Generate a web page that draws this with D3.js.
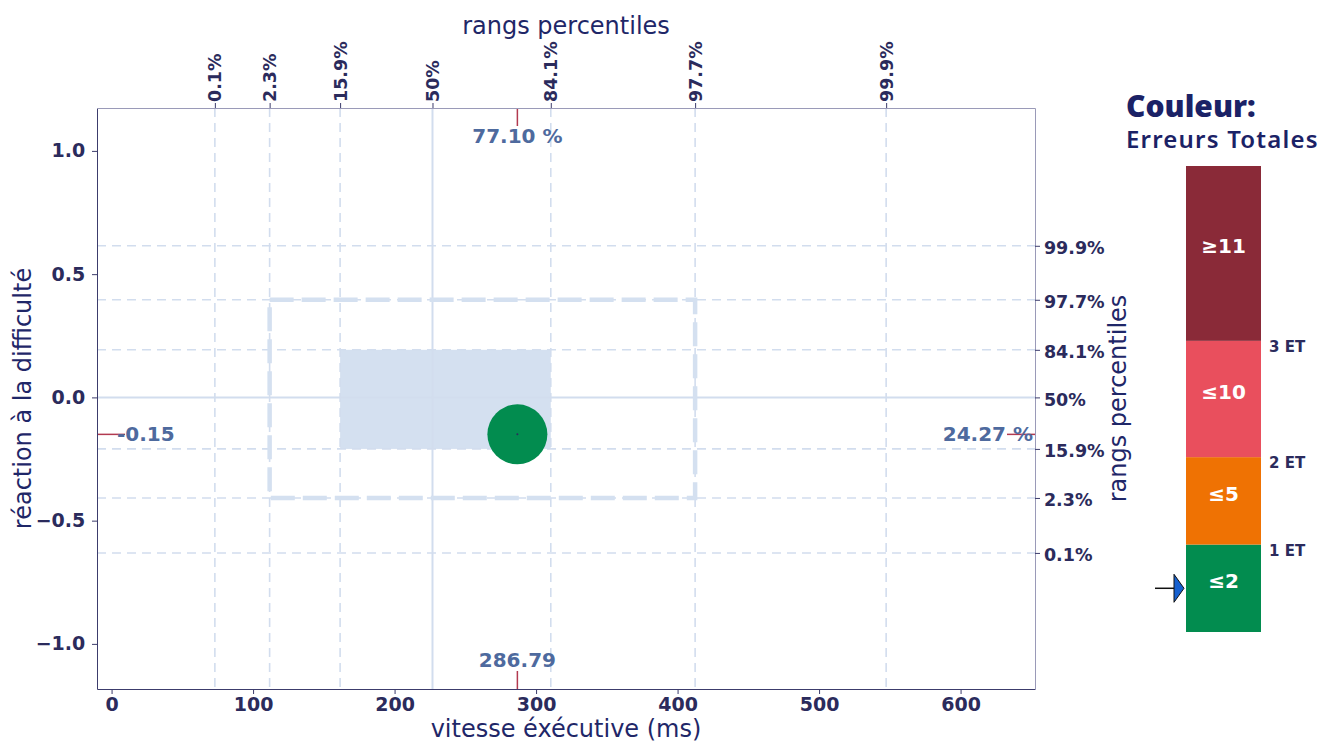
<!DOCTYPE html>
<html>
<head>
<meta charset="utf-8">
<script src="https://cdn.jsdelivr.net/npm/d3@7"></script>
<style>
  body { margin: 0; background: #fff; }
  .tick text { font-family: "DejaVu Sans", sans-serif; font-weight: bold; fill: #2b2b5c; }
  .axis-title { font-family: "DejaVu Sans", sans-serif; fill: #1f2768; font-size: 24px; }
  .val { font-family: "DejaVu Sans", sans-serif; font-weight: bold; fill: #4e6a9e; font-size: 20px; }
</style>
</head>
<body>
<div id="chart-area"></div>
<script>
// axis ticks
var xTicks = [0, 100, 200, 300, 400, 500, 600];
var yTicks = [-1.0, -0.5, 0.0, 0.5, 1.0];

// percentile reference lines (value where each percentile falls)
var pctLabels = ["0.1%", "2.3%", "15.9%", "50%", "84.1%", "97.7%", "99.9%"];
var xPctValues = [73, 111.7, 161.5, 226.8, 310.4, 412.4, 547.4];
var yPctValues = [-0.631, -0.408, -0.209, 0, 0.193, 0.396, 0.615];

// the score being shown
var scoreX = 286.79;
var scoreY = -0.15;
var scoreXPct = "77.10 %";
var scoreYPct = "24.27 %";
var scoreCategory = 0;

// colour legend
var legendLabels = ["≤2", "≤5", "≤10", "≥11"];
var legendColors = ["#028c4f", "#ef7203", "#e94f5d", "#8a2a38"];
var legendBounds = [0, 1, 2, 3.33, 5.33];
var legendSdLabels = ["1 ET", "2 ET", "3 ET"];

var W = 1337, H = 743;
var pLeft = 97, pRight = 1035, pTop = 108, pBottom = 689;

var svg = d3.select("#chart-area").append("svg")
    .attr("width", W)
    .attr("height", H);

var x = d3.scaleLinear().domain([-10.3, 652.6]).range([pLeft, pRight]);
var y = d3.scaleLinear().domain([-1.183, 1.174]).range([pBottom, pTop]);

var gridColor = "#d2ddee";

// shaded 1 SD box
svg.append("rect")
    .attr("x", x(xPctValues[2]))
    .attr("y", y(yPctValues[4]))
    .attr("width", x(xPctValues[4]) - x(xPctValues[2]))
    .attr("height", y(yPctValues[2]) - y(yPctValues[4]))
    .attr("fill", "#d4e0f0");

// percentile grid lines
svg.selectAll("line.vgrid")
    .data(xPctValues)
    .enter().append("line")
    .attr("class", "vgrid")
    .attr("x1", function (d) { return x(d); })
    .attr("x2", function (d) { return x(d); })
    .attr("y1", pTop)
    .attr("y2", pBottom)
    .attr("stroke", gridColor)
    .attr("stroke-width", function (d, i) { return i === 3 ? 2 : 1.6; })
    .attr("stroke-dasharray", function (d, i) { return i === 3 ? null : "9,6"; });

svg.selectAll("line.hgrid")
    .data(yPctValues)
    .enter().append("line")
    .attr("class", "hgrid")
    .attr("y1", function (d) { return y(d); })
    .attr("y2", function (d) { return y(d); })
    .attr("x1", pLeft)
    .attr("x2", pRight)
    .attr("stroke", gridColor)
    .attr("stroke-width", function (d, i) { return i === 3 ? 2 : 1.6; })
    .attr("stroke-dasharray", function (d, i) { return i === 3 ? null : "9,6"; });

// 2 SD dashed box
svg.append("rect")
    .attr("x", x(xPctValues[1]))
    .attr("y", y(yPctValues[5]))
    .attr("width", x(xPctValues[5]) - x(xPctValues[1]))
    .attr("height", y(yPctValues[1]) - y(yPctValues[5]))
    .attr("fill", "none")
    .attr("stroke", "#d4e0f0")
    .attr("stroke-width", 4.5)
    .attr("stroke-dasharray", "24,8");

// score marker
svg.append("circle")
    .attr("cx", x(scoreX))
    .attr("cy", y(scoreY))
    .attr("r", 30)
    .attr("fill", legendColors[scoreCategory]);
svg.append("circle")
    .attr("cx", x(scoreX))
    .attr("cy", y(scoreY))
    .attr("r", 1)
    .attr("fill", "#2b2b5c");

// red edge markers
var red = "#b23a50";
svg.append("line").attr("x1", x(scoreX)).attr("x2", x(scoreX)).attr("y1", pTop).attr("y2", pTop + 18)
    .attr("stroke", red).attr("stroke-width", 1.5);
svg.append("line").attr("x1", x(scoreX)).attr("x2", x(scoreX)).attr("y1", pBottom).attr("y2", pBottom - 18)
    .attr("stroke", red).attr("stroke-width", 1.5);
svg.append("line").attr("x1", pLeft).attr("x2", pLeft + 28).attr("y1", y(scoreY)).attr("y2", y(scoreY))
    .attr("stroke", red).attr("stroke-width", 1.5);
svg.append("line").attr("x1", pRight).attr("x2", pRight - 28).attr("y1", y(scoreY)).attr("y2", y(scoreY))
    .attr("stroke", red).attr("stroke-width", 1.5);

svg.append("text").attr("class", "val")
    .attr("x", x(scoreX)).attr("y", pTop + 35)
    .attr("text-anchor", "middle").text(scoreXPct);
svg.append("text").attr("class", "val")
    .attr("x", x(scoreX)).attr("y", pBottom - 22)
    .attr("text-anchor", "middle").text(scoreX.toFixed(2));
svg.append("text").attr("class", "val")
    .attr("x", pLeft + 20).attr("y", y(scoreY) + 7)
    .text(String(scoreY.toFixed(2)));
svg.append("text").attr("class", "val")
    .attr("x", pRight - 2).attr("y", y(scoreY) + 7)
    .attr("text-anchor", "end").text(scoreYPct);

// axes
var xAxis = svg.append("g")
    .attr("transform", "translate(0," + pBottom + ")")
    .call(d3.axisBottom(x).tickValues(xTicks).tickFormat(d3.format("d")).tickSize(5).tickSizeOuter(0));
var yAxis = svg.append("g")
    .attr("transform", "translate(" + pLeft + ",0)")
    .call(d3.axisLeft(y).tickValues(yTicks).tickFormat(d3.format(".1f")).tickSize(5).tickSizeOuter(0));
var topAxis = svg.append("g")
    .attr("transform", "translate(0," + pTop + ")")
    .call(d3.axisTop(x).tickValues(xPctValues).tickFormat(function (d, i) { return pctLabels[i]; }).tickSize(5).tickSizeOuter(0));
var rightAxis = svg.append("g")
    .attr("transform", "translate(" + pRight + ",0)")
    .call(d3.axisRight(y).tickValues(yPctValues).tickFormat(function (d, i) { return pctLabels[i]; }).tickSize(5).tickSizeOuter(0));

xAxis.selectAll("text").style("font-size", "19px").attr("dy", "0.75em");
yAxis.selectAll("text").style("font-size", "19px").attr("dx", "-0.2em");
topAxis.selectAll("text").style("font-size", "17.5px")
    .attr("transform", "rotate(-90)")
    .attr("text-anchor", "start")
    .attr("x", 6).attr("y", 0).attr("dy", "0.35em");
rightAxis.selectAll("text").style("font-size", "17.5px").attr("dx", "0.05em").attr("dy", "0.45em");

xAxis.select(".domain").attr("stroke", "#3c3c6c");
yAxis.select(".domain").attr("stroke", "#3c3c6c");
topAxis.select(".domain").attr("stroke", "#9a9ab8");
rightAxis.select(".domain").attr("stroke", "#9a9ab8");
xAxis.selectAll(".tick line").attr("stroke", "#3c3c6c");
yAxis.selectAll(".tick line").attr("stroke", "#3c3c6c");
topAxis.selectAll(".tick line").attr("stroke", "#3c3c6c");
rightAxis.selectAll(".tick line").attr("stroke", "#3c3c6c");

// axis titles
svg.append("text").attr("class", "axis-title")
    .attr("x", (pLeft + pRight) / 2).attr("y", 737)
    .attr("text-anchor", "middle").text("vitesse éxécutive (ms)");
svg.append("text").attr("class", "axis-title")
    .attr("x", (pLeft + pRight) / 2).attr("y", 34)
    .attr("text-anchor", "middle").text("rangs percentiles");
svg.append("text").attr("class", "axis-title")
    .attr("transform", "translate(31," + ((pTop + pBottom) / 2) + ") rotate(-90)")
    .attr("text-anchor", "middle").text("réaction à la difficulté");
svg.append("text").attr("class", "axis-title")
    .attr("transform", "translate(1126," + ((pTop + pBottom) / 2) + ") rotate(-90)")
    .attr("text-anchor", "middle").text("rangs percentiles");

// legend
var leg = svg.append("g");
leg.append("text")
    .attr("x", 1126).attr("y", 117)
    .style("font-family", "'Noto Sans', sans-serif").style("font-weight", 900)
    .style("font-size", "30px").style("fill", "#1b2266")
    .text("Couleur:");
leg.append("text")
    .attr("x", 1126).attr("y", 148)
    .style("font-family", "'Noto Sans', sans-serif").style("font-weight", 600)
    .style("font-size", "24px").style("letter-spacing", "1.2px").style("fill", "#1b2266")
    .text("Erreurs Totales");

var ly = d3.scaleLinear().domain([0, legendBounds[legendBounds.length - 1]]).range([632, 166]);
var barX = 1186, barW = 75;

leg.selectAll("rect.seg")
    .data(legendLabels)
    .enter().append("rect")
    .attr("class", "seg")
    .attr("x", barX)
    .attr("width", barW)
    .attr("y", function (d, i) { return ly(legendBounds[i + 1]); })
    .attr("height", function (d, i) { return ly(legendBounds[i]) - ly(legendBounds[i + 1]); })
    .attr("fill", function (d, i) { return legendColors[i]; });

leg.selectAll("text.seg")
    .data(legendLabels)
    .enter().append("text")
    .attr("class", "seg")
    .attr("x", barX + barW / 2)
    .attr("y", function (d, i) { return (ly(legendBounds[i]) + ly(legendBounds[i + 1])) / 2; })
    .attr("text-anchor", "middle")
    .style("font-family", "'DejaVu Sans', sans-serif").style("font-weight", "bold")
    .style("font-size", "20px").style("fill", "#fff")
    .text(function (d) { return d; });

leg.selectAll("text.sd")
    .data(legendSdLabels)
    .enter().append("text")
    .attr("class", "sd")
    .attr("x", 1269)
    .attr("y", function (d, i) { return ly(legendBounds[i + 1]) + 11; })
    .style("font-family", "'DejaVu Sans', sans-serif").style("font-weight", "bold")
    .style("font-size", "15px").style("fill", "#2b2b5c")
    .text(function (d) { return d; });

// arrow pointing at the score's category
var ay = (ly(legendBounds[scoreCategory]) + ly(legendBounds[scoreCategory + 1])) / 2;
leg.append("line")
    .attr("x1", 1155).attr("x2", 1175).attr("y1", ay).attr("y2", ay)
    .attr("stroke", "#111").attr("stroke-width", 1.5);
leg.append("path")
    .attr("d", "M1174," + (ay - 14) + " L1184," + ay + " L1174," + (ay + 14) + " Z")
    .attr("fill", "#1560d0").attr("stroke", "#111").attr("stroke-width", 1);
</script>
</body>
</html>
